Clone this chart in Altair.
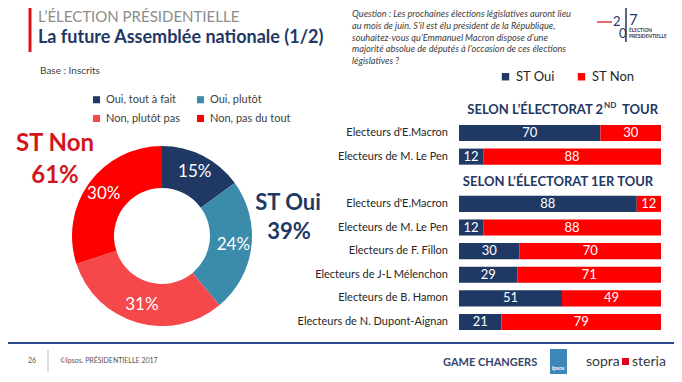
import altair as alt
import pandas as pd

# ---------------- data ----------------
donut_cats = ["Oui, tout à fait", "Oui, plutôt", "Non, plutôt pas", "Non, pas du tout"]
donut_vals = [15, 24, 31, 30]
donut_colors = ["#1f3864", "#3b8bab", "#f5484b", "#fe0000"]

row_labels = ["Electeurs d'E.Macron", "Electeurs de M. Le Pen", "",
              "Electeurs d'E.Macron", "Electeurs de M. Le Pen", "Electeurs de F. Fillon",
              "Electeurs de J-L Mélenchon", "Electeurs de B. Hamon", "Electeurs de N. Dupont-Aignan"]
st_oui = [70, 12, None, 88, 12, 30, 29, 51, 21]
st_non = [30, 88, None, 12, 88, 70, 71, 49, 79]
series = ["ST Oui", "ST Non"]
series_colors = ["#1f3864", "#fe0000"]

question_lines = [
    "Question : Les prochaines élections législatives auront lieu",
    "au mois de juin. S\u2019il est élu président de la République,",
    "souhaitez-vous qu\u2019Emmanuel Macron dispose d\u2019une",
    "majorité absolue de députés à l\u2019occasion de ces élections",
    "législatives ?",
]

FONT = "Lato"
NAVY = "#1f3864"

# ---------------- tables ----------------
keys = [f"r{i}" for i in range(len(row_labels))]
donut_df = pd.DataFrame({"cat": donut_cats, "value": donut_vals,
                         "order": list(range(len(donut_cats))),
                         "label": [f"{v}%" for v in donut_vals]})

bar_rows = []
for k, o, n in zip(keys, st_oui, st_non):
    if o is None:
        continue
    bar_rows.append({"key": k, "series": "ST Oui", "start": 0, "end": o, "val": o})
    bar_rows.append({"key": k, "series": "ST Non", "start": o, "end": o + n, "val": n})
bar_df = pd.DataFrame(bar_rows)
bar_df["mid"] = (bar_df["start"] + bar_df["end"]) / 2
label_df = pd.DataFrame({"key": keys, "label": row_labels})

x_scale = alt.Scale(domain=[0, 100], range=[451, 653])
y_enc = alt.Y("key:N", scale=alt.Scale(domain=keys, range=[113.2, 325.8],
                                       paddingInner=0.32, paddingOuter=0.16), axis=None)

CX, CY = 154, 228

arc = alt.Chart(donut_df).mark_arc(innerRadius=48, outerRadius=90).encode(
    theta=alt.Theta("value:Q", stack=True),
    fill=alt.Fill("cat:N", title=None,
                  scale=alt.Scale(domain=donut_cats, range=donut_colors),
                  legend=alt.Legend(orient="none", legendX=83, legendY=86, columns=2,
                                    direction="horizontal",
                                    columnPadding=14, rowPadding=7, padding=0,
                                    symbolType="square", symbolSize=50, symbolStrokeWidth=0,
                                    labelFont=FONT, labelFontSize=11, labelColor="#404040")),
    order=alt.Order("order:Q"),
    x=alt.value(CX), y=alt.value(CY),
)
arc_text = alt.Chart(donut_df).mark_text(radius=72, fontSize=17, color="white", font=FONT).encode(
    theta=alt.Theta("value:Q", stack=True),
    order=alt.Order("order:Q"),
    text="label:N",
    x=alt.value(CX), y=alt.value(CY),
)

bars = alt.Chart(bar_df).mark_bar().encode(
    x=alt.X("start:Q", scale=x_scale, axis=None),
    x2="end:Q",
    y=y_enc,
    color=alt.Color("series:N", title=None,
                    scale=alt.Scale(domain=series, range=series_colors),
                    legend=alt.Legend(orient="none", direction="horizontal", legendX=491, legendY=62,
                                      columnPadding=20, padding=0, symbolType="square",
                                      symbolSize=55, symbolStrokeWidth=0,
                                      labelFont=FONT, labelFontSize=13, labelColor="#262626")),
)
bar_text = alt.Chart(bar_df).mark_text(color="white", fontSize=13, font=FONT).encode(
    x=alt.X("mid:Q", scale=x_scale, axis=None),
    y=y_enc,
    text="val:Q",
)
row_text = alt.Chart(label_df).mark_text(align="right", fontSize=11, font=FONT, color="#262626").encode(
    x=alt.value(440),
    y=y_enc,
    text="label:N",
)


def txt(s, x, y, size, color, weight="normal", align="left", style="normal"):
    return alt.Chart(pd.DataFrame({"t": [s]})).mark_text(
        align=align, baseline="middle", fontSize=size, color=color,
        fontWeight=weight, fontStyle=style, font=FONT
    ).encode(x=alt.value(x), y=alt.value(y), text="t:N")


def rule(x1, y1, x2, y2, color, w):
    return alt.Chart(pd.DataFrame({"a": [0]})).mark_rule(color=color, strokeWidth=w).encode(
        x=alt.value(x1), y=alt.value(y1), x2=alt.value(x2), y2=alt.value(y2))


def rect(x1, y1, x2, y2, color):
    return alt.Chart(pd.DataFrame({"a": [0]})).mark_rect(color=color).encode(
        x=alt.value(x1), y=alt.value(y1), x2=alt.value(x2), y2=alt.value(y2))


deco = [
    rule(22, 0, 22, 44, "#d7141a", 3),
    txt("L\u2019ÉLECTION PRÉSIDENTIELLE", 30, 9, 15, "#8c8c8c"),
    txt("La future Assemblée nationale (1/2)", 30, 30, 18, NAVY, "bold"),
    txt("Base : Inscrits", 32, 63, 10, "#404040"),
    txt("ST Non", 47, 136, 24, "#d2161e", "bold", "center"),
    txt("61%", 47, 168, 24, "#d2161e", "bold", "center"),
    txt("ST Oui", 280, 195, 22, NAVY, "bold", "center"),
    txt("39%", 281, 224, 22, NAVY, "bold", "center"),
    txt("SELON L\u2019ÉLECTORAT 2", 595, 102, 13, NAVY, "bold", "right"),
    txt("ND", 596, 98, 8, NAVY, "bold", "left"),
    txt("TOUR", 650, 102, 13, NAVY, "bold", "right"),
    txt("SELON L\u2019ÉLECTORAT 1ER TOUR", 550, 174, 13, NAVY, "bold", "center"),
    # logo 2017
    rule(589, 14, 604, 14, "#e03a3e", 1.5),
    txt("2", 605, 14, 13, NAVY, "normal", "left"),
    txt("0", 611, 26, 13, NAVY, "normal", "left"),
    rule(618, 0, 618, 34, NAVY, 1.5),
    txt("7", 621, 12, 15, NAVY, "normal", "left"),
    txt("ÉLECTION", 621, 23, 4.8, NAVY, "bold", "left"),
    txt("PRÉSIDENTIELLE", 621, 29, 4.8, NAVY, "bold", "left"),
    # footer
    rule(0, 335, 666, 335, "#2b4a8a", 2),
    txt("26", 20, 353, 7, "#555555"),
    rule(40, 342, 40, 364, "#bbbbbb", 1),
    txt("©Ipsos.  PRÉSIDENTIELLE 2017", 52, 353, 7, "#555555"),
    txt("GAME CHANGERS", 435, 355, 11, "#34456b", "bold"),
    rect(542, 341, 559, 366, "#3d86b8"),
    txt("Ipsos", 550, 360, 5.5, "white", "bold", "center"),
    txt("sopra", 578, 354, 14, "#3a3a3a"),
    rect(614, 350, 621, 357, "#e2001a"),
    txt("steria", 624, 354, 14, "#3a3a3a"),
]
for i, line in enumerate(question_lines):
    deco.append(txt(line, 344, 6 + i * 11.8, 9.2, "#404040", "normal", "left", "italic"))

chart = alt.layer(arc, arc_text, bars, bar_text, row_text, *deco).resolve_scale(
    color="independent", fill="independent"
).properties(
    width=666, height=366, padding=0,
    autosize=alt.AutoSizeParams(type="none"),
).configure_view(strokeWidth=0)

chart.save("out.html", embed_options={"renderer": "svg", "actions": False})
